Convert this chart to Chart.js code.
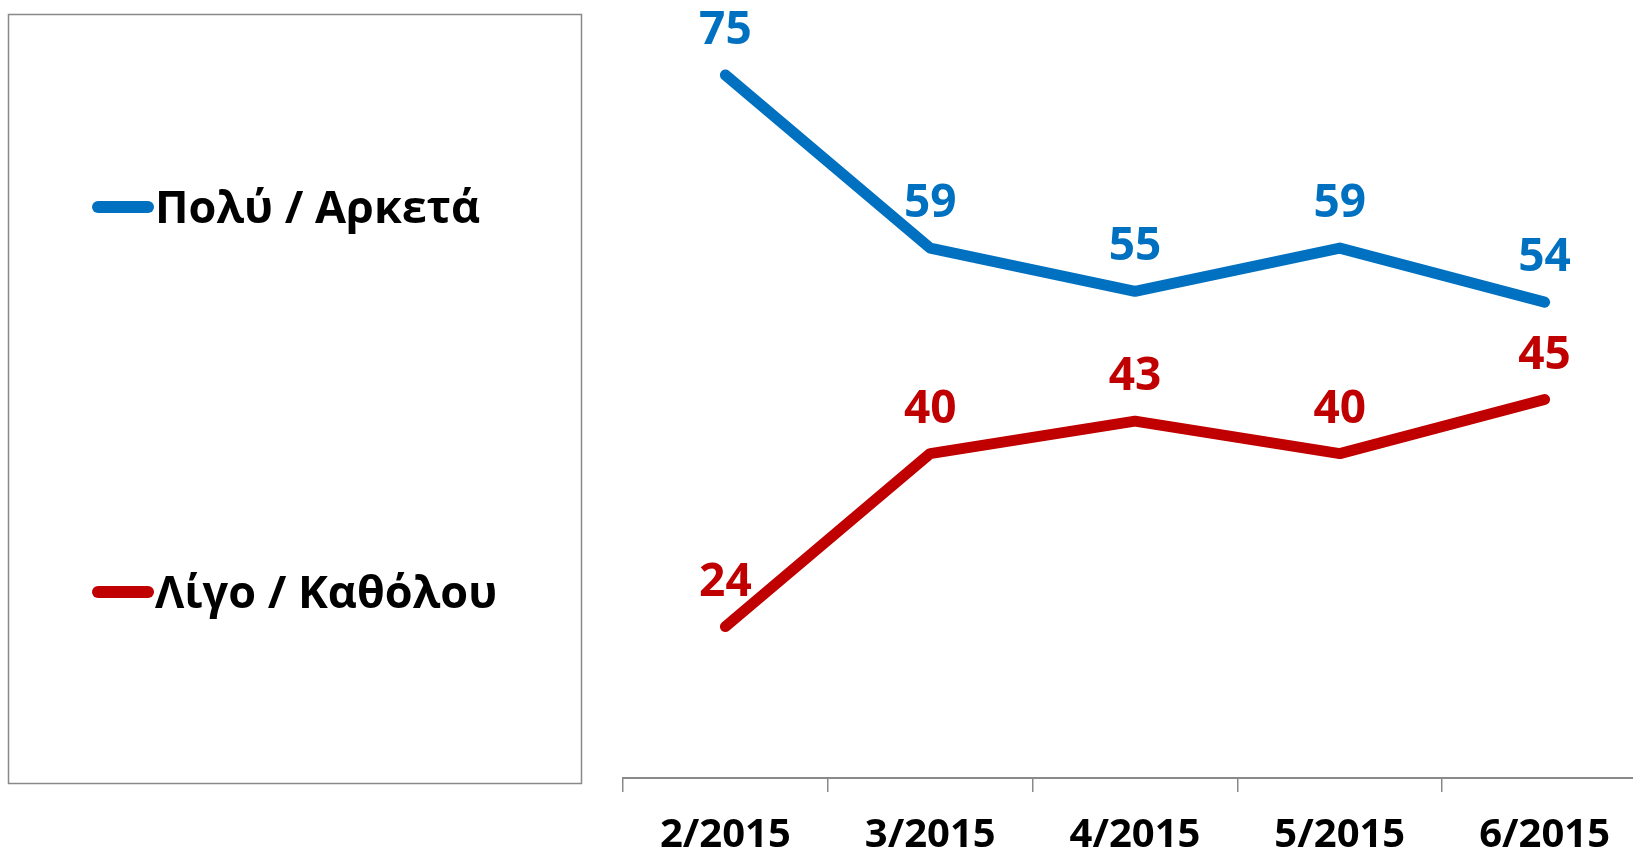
<!DOCTYPE html>
<html>
<head>
<meta charset="utf-8">
<script src="https://cdn.jsdelivr.net/npm/chart.js@4.4.0/dist/chart.umd.min.js"></script>
<style>
  html, body { margin: 0; padding: 0; background: #fff; overflow: hidden; }
  #wrap { position: relative; width: 1660px; height: 853px; }
</style>
</head>
<body>
<div id="wrap"><canvas id="chart" width="1660" height="853"></canvas></div>
<script>
const months = ['2/2015', '3/2015', '4/2015', '5/2015', '6/2015'];
const muchValues = [75, 59, 55, 59, 54];
const littleValues = [24, 40, 43, 40, 45];
const seriesNames = ['Πολύ / Αρκετά', 'Λίγο / Καθόλου'];
const seriesColors = ['#0070C0', '#C00000'];

const FONT = '"Open Sans", "Noto Sans", sans-serif';

// Value labels above every point
const pointLabels = {
  id: 'pointLabels',
  afterDatasetsDraw(chart) {
    const ctx = chart.ctx;
    ctx.save();
    ctx.font = 'bold 46px ' + FONT;
    ctx.textAlign = 'center';
    ctx.textBaseline = 'alphabetic';
    chart.data.datasets.forEach((ds, i) => {
      const meta = chart.getDatasetMeta(i);
      ctx.fillStyle = ds.borderColor;
      meta.data.forEach((pt, j) => {
        ctx.fillText(String(ds.data[j]), pt.x, pt.y - 31);
      });
    });
    ctx.restore();
  }
};

// Framed legend on the left side
const boxLegend = {
  id: 'boxLegend',
  beforeDraw(chart) {
    const ctx = chart.ctx;
    ctx.save();
    ctx.strokeStyle = '#898989';
    ctx.lineWidth = 1.5;
    ctx.strokeRect(8.5, 14.5, 573, 769);

    const rows = [207, 592];
    chart.data.datasets.forEach((ds, i) => {
      const y = rows[i];
      ctx.strokeStyle = ds.borderColor;
      ctx.lineWidth = 12;
      ctx.lineCap = 'round';
      ctx.beginPath();
      ctx.moveTo(98, y);
      ctx.lineTo(148, y);
      ctx.stroke();

      ctx.fillStyle = '#000';
      ctx.font = 'bold 45px ' + FONT;
      ctx.textAlign = 'left';
      ctx.textBaseline = 'alphabetic';
      ctx.fillText(ds.label, 155, y + 16);
    });
    ctx.restore();
  }
};

new Chart(document.getElementById('chart'), {
  type: 'line',
  data: {
    labels: months,
    datasets: [
      {
        label: seriesNames[0],
        data: muchValues,
        borderColor: seriesColors[0],
        backgroundColor: seriesColors[0],
        borderWidth: 11,
        borderCapStyle: 'round',
        borderJoinStyle: 'round',
        pointRadius: 0,
        tension: 0
      },
      {
        label: seriesNames[1],
        data: littleValues,
        borderColor: seriesColors[1],
        backgroundColor: seriesColors[1],
        borderWidth: 11,
        borderCapStyle: 'round',
        borderJoinStyle: 'round',
        pointRadius: 0,
        tension: 0
      }
    ]
  },
  options: {
    responsive: false,
    animation: false,
    layout: {
      padding: { left: 623, top: 21, right: 13, bottom: 0 }
    },
    plugins: {
      legend: { display: false },
      tooltip: { enabled: false }
    },
    scales: {
      x: {
        offset: true,
        afterFit: scale => { scale.height = 75; },
        grid: {
          offset: true,
          drawOnChartArea: false,
          drawTicks: true,
          tickLength: 14,
          color: '#898989',
          lineWidth: 1.5
        },
        border: { display: true, color: '#898989', width: 2 },
        ticks: {
          color: '#000',
          padding: 20,
          font: { family: FONT, size: 40, weight: 'bold' }
        }
      },
      y: {
        display: false,
        min: 10,
        max: 80
      }
    }
  },
  plugins: [pointLabels, boxLegend]
});
</script>
</body>
</html>
